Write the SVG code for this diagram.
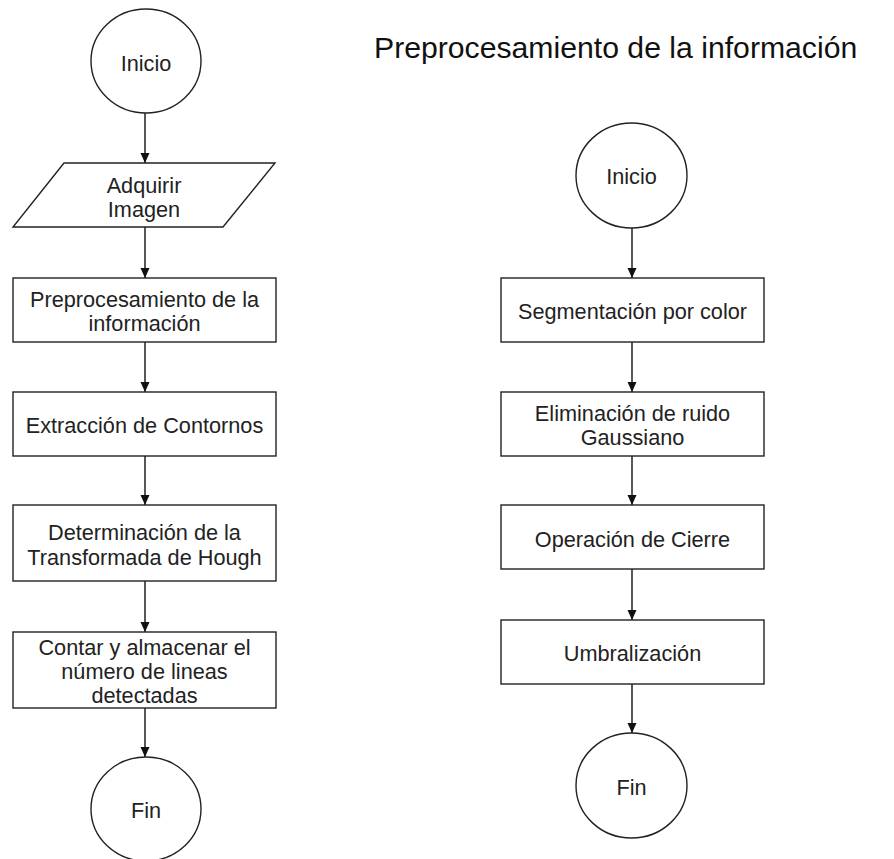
<svg xmlns="http://www.w3.org/2000/svg" width="894" height="859" viewBox="0 0 894 859">
<style>
.s{fill:#fff;stroke:#222;stroke-width:1.4}
.t{font-family:"Liberation Sans",Arial,Helvetica,sans-serif;font-size:21.7px;fill:#222;text-anchor:middle}
.ttl{font-family:"Liberation Sans",Arial,Helvetica,sans-serif;font-size:30.2px;fill:#111}
.c{stroke:#111;stroke-width:1.4;fill:none;marker-end:url(#ah)}
</style>
<defs>
<marker id="ah" markerUnits="userSpaceOnUse" markerWidth="10" markerHeight="10" refX="10" refY="5" orient="auto">
<path d="M0,0.5 L10,5 L0,9.5 z" fill="#111"/>
</marker>
</defs>
<rect width="894" height="859" fill="#fff"/>
<text class="ttl" x="374" y="58">Preprocesamiento de la información</text>

<g id="connectors">
<line class="c" x1="145" y1="113" x2="145" y2="163"/>
<line class="c" x1="145" y1="227" x2="145" y2="278"/>
<line class="c" x1="145" y1="342" x2="145" y2="392"/>
<line class="c" x1="145" y1="456" x2="145" y2="505"/>
<line class="c" x1="145" y1="581" x2="145" y2="632"/>
<line class="c" x1="145" y1="708" x2="145" y2="757"/>
<line class="c" x1="632" y1="228" x2="632" y2="278"/>
<line class="c" x1="632" y1="342" x2="632" y2="392"/>
<line class="c" x1="632" y1="456" x2="632" y2="505"/>
<line class="c" x1="632" y1="569" x2="632" y2="620"/>
<line class="c" x1="632" y1="684" x2="632" y2="733"/>
</g>

<g id="inicio1">
<ellipse class="s" cx="146" cy="61" rx="55" ry="52"/>
<text class="t" x="146" y="70.5">Inicio</text>
</g>
<g id="adquirir">
<polygon class="s" points="64,163 275,163 223,227 13,227"/>
<text class="t" x="144" y="192.5">Adquirir</text>
<text class="t" x="144" y="216.5">Imagen</text>
</g>
<g id="preproc">
<rect class="s" x="13" y="278" width="263" height="64"/>
<text class="t" x="144.5" y="306.5">Preprocesamiento de la</text>
<text class="t" x="144.5" y="330.5">información</text>
</g>
<g id="extraccion">
<rect class="s" x="13" y="392" width="263" height="64"/>
<text class="t" x="144.5" y="433">Extracción de Contornos</text>
</g>
<g id="hough">
<rect class="s" x="13" y="505" width="263" height="76"/>
<text class="t" x="144.5" y="540">Determinación de la</text>
<text class="t" x="144.5" y="564.5">Transformada de Hough</text>
</g>
<g id="contar">
<rect class="s" x="13" y="632" width="263" height="76"/>
<text class="t" x="144.5" y="655">Contar y almacenar el</text>
<text class="t" x="144.5" y="679">número de lineas</text>
<text class="t" x="144.5" y="703">detectadas</text>
</g>
<g id="fin1">
<ellipse class="s" cx="146" cy="809" rx="55" ry="52"/>
<text class="t" x="146" y="817.5">Fin</text>
</g>

<g id="inicio2">
<ellipse class="s" cx="631.5" cy="175.5" rx="55.5" ry="52.5"/>
<text class="t" x="631.5" y="184">Inicio</text>
</g>
<g id="segmentacion">
<rect class="s" x="501" y="278" width="263" height="64"/>
<text class="t" x="632.5" y="318.5">Segmentación por color</text>
</g>
<g id="eliminacion">
<rect class="s" x="501" y="392" width="263" height="64"/>
<text class="t" x="632.5" y="420.5">Eliminación de ruido</text>
<text class="t" x="632.5" y="445">Gaussiano</text>
</g>
<g id="cierre">
<rect class="s" x="501" y="505" width="263" height="64"/>
<text class="t" x="632.5" y="546.5">Operación de Cierre</text>
</g>
<g id="umbral">
<rect class="s" x="501" y="620" width="263" height="64"/>
<text class="t" x="632.5" y="661">Umbralización</text>
</g>
<g id="fin2">
<ellipse class="s" cx="631.5" cy="785.5" rx="55.5" ry="52.5"/>
<text class="t" x="631.5" y="795">Fin</text>
</g>
</svg>
